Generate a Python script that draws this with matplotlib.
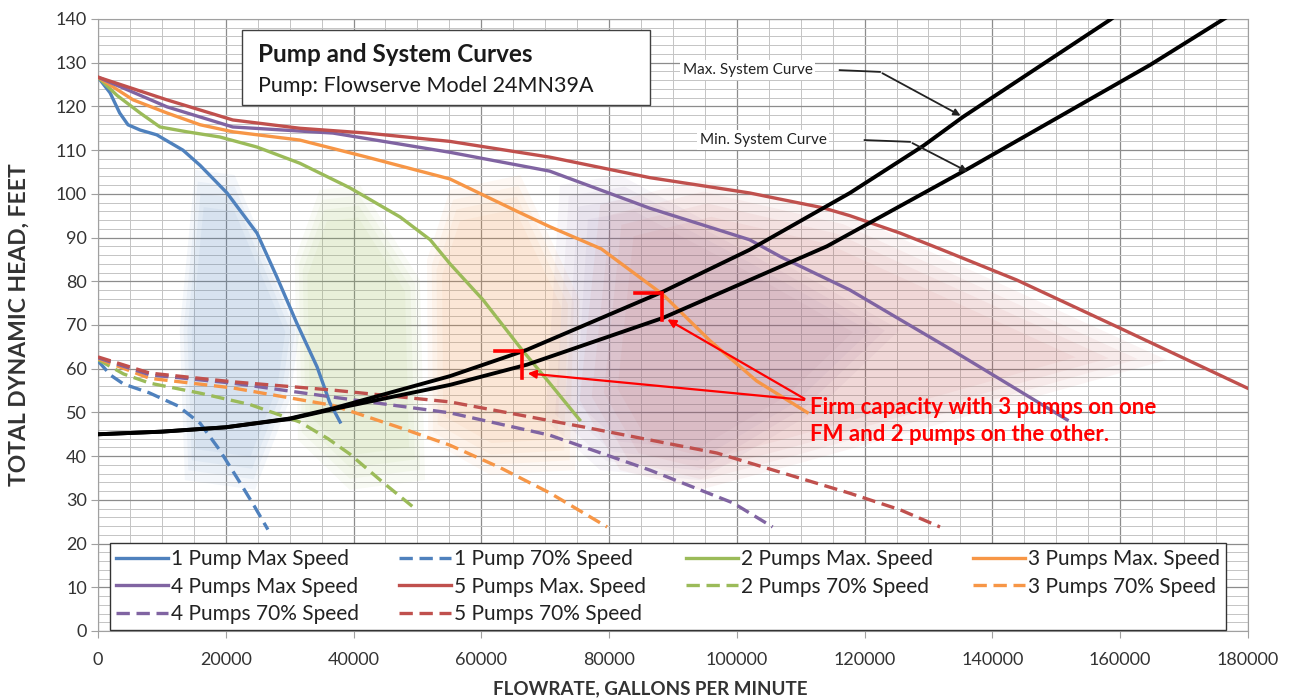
import matplotlib.pyplot as plt
from matplotlib.patches import Polygon, Rectangle
from matplotlib.ticker import MultipleLocator

plt.rcParams['font.family'] = ['Lato', 'DejaVu Sans']

# pump curves at max speed (flow gpm, head ft)
p1_max_q = [0, 1900, 3400, 4700, 6600, 9200, 13300, 16000, 20200, 24900, 28000, 31100, 34300, 36300, 37900]
p1_max_h = [126.7, 123.1, 118.5, 115.8, 114.6, 113.5, 110.0, 106.5, 100.2, 91.0, 81.0, 70.5, 60.4, 52.2, 47.8]
p2_max_q = [0, 3000, 6600, 9700, 13900, 19100, 24900, 31600, 39400, 47300, 52000, 55100, 60300, 66000, 70700, 75400]
p2_max_h = [126.7, 122.5, 118.5, 115.3, 114.2, 113.0, 110.7, 107.0, 101.4, 94.7, 89.5, 84.0, 75.7, 65.0, 56.7, 48.3]
p3_max_q = [0, 5500, 10800, 16000, 21100, 31600, 42100, 55100, 65600, 70700, 78800, 88400, 95800, 103100, 111000]
p3_max_h = [126.7, 121.5, 118.5, 115.8, 114.2, 112.3, 108.4, 103.4, 96.0, 92.5, 87.4, 77.0, 66.4, 57.2, 50.0]
p4_max_q = [0, 10800, 21100, 36800, 55100, 70700, 86400, 102000, 107000, 117700, 125600, 133400, 141200, 151700]
p4_max_h = [126.7, 119.9, 115.3, 113.9, 109.5, 105.2, 96.7, 89.5, 85.5, 78.0, 71.2, 64.5, 57.6, 48.3]
p5_max_q = [0, 10800, 21100, 31600, 42100, 55100, 70700, 86400, 102000, 113500, 117700, 125600, 131800, 143800, 159500, 180000]
p5_max_h = [126.7, 121.5, 116.9, 115.0, 113.9, 112.0, 108.4, 103.7, 100.2, 96.8, 95.0, 91.0, 87.4, 80.3, 69.6, 55.5]

# pump curves at 70% speed
p1_70_q = [0, 2000, 4000, 8000, 12500, 16000, 19000, 22000, 24500, 26600]
p1_70_h = [61.8, 58.5, 56.5, 54.5, 51.5, 47.5, 41.5, 34.5, 28.5, 23.2]
p2_70_q = [0, 4000, 8100, 16000, 23800, 31600, 36000, 39400, 44600, 49300]
p2_70_h = [62.1, 58.8, 56.7, 54.4, 51.8, 47.8, 44.0, 40.5, 34.0, 28.4]
p3_70_q = [0, 8100, 21100, 36800, 47300, 55100, 62900, 70700, 79700]
p3_70_h = [62.3, 57.8, 55.6, 51.6, 46.5, 42.5, 37.4, 31.6, 23.8]
p4_70_q = [0, 8100, 21100, 36800, 55100, 70700, 86400, 99400, 105600]
p4_70_h = [62.5, 58.6, 56.7, 53.5, 49.9, 44.8, 36.8, 29.3, 23.8]
p5_70_q = [0, 8100, 21100, 36800, 55100, 75900, 96900, 117700, 125600, 131800]
p5_70_h = [62.7, 59.0, 57.0, 55.1, 52.4, 46.7, 40.7, 31.5, 27.7, 23.8]

# system curves
sys_max_q = [0, 10000, 20000, 30000, 37000, 55100, 67100, 88400, 102000, 117700, 129200, 135400, 158400, 160500]
sys_max_h = [45.0, 45.6, 46.6, 48.6, 51.0, 58.3, 64.3, 77.6, 87.2, 100.2, 111.0, 117.6, 139.8, 142.0]
sys_min_q = [0, 10000, 20000, 30000, 37000, 55100, 67100, 88400, 114100, 136500, 164700, 176000, 178500]
sys_min_h = [45.0, 45.6, 46.6, 48.5, 50.8, 56.3, 60.9, 71.6, 88.0, 106.0, 129.5, 139.8, 142.0]

# shaded operating regions (flow, head)
shade_1 = [(15200, 105.5), (21400, 104.3), (31600, 68.9), (30000, 52.8), (24600, 32.3), (13600, 34.5), (12800, 68.9)]
shade_2 = [(34700, 100.9), (41000, 102.0), (50400, 80.3), (51200, 34.5), (39400, 32.3), (31300, 43.7), (30800, 84.9)]
shade_3 = [(55100, 100.9), (66100, 104.3), (75400, 75.7), (74700, 36.8), (61400, 35.7), (51700, 43.7), (51500, 84.9)]
shade_4 = [(72300, 102.0), (81700, 104.3), (103600, 87.2), (125500, 68.9), (112000, 50.0), (94200, 34.5), (78600, 36.8), (70000, 48.3)]
shade_5 = [(78600, 97.5), (94200, 103.2), (117700, 95.2), (167300, 62.0), (109900, 38.4), (94200, 32.3), (81700, 36.8), (75400, 52.8)]

blue = '#4F81BD'
red = '#C0504D'
green = '#9BBB59'
purple = '#8064A2'
orange = '#F79646'


def soft_fill(ax, pts, color):
    # a few nested copies give the blurred edge of the original shading
    cx = sum(p[0] for p in pts) / len(pts)
    cy = sum(p[1] for p in pts) / len(pts)
    for s in [1.0, 0.93, 0.86, 0.78]:
        shrunk = [(cx + (x - cx) * s, cy + (y - cy) * s) for x, y in pts]
        ax.add_patch(Polygon(shrunk, closed=True, facecolor=color, edgecolor='none', alpha=0.06, zorder=1))


fig = plt.figure(figsize=(12.94, 6.98), dpi=100)
ax = fig.add_axes([0.0757, 0.096, 0.8887, 0.8768])

for pts, c in [(shade_1, blue), (shade_2, green), (shade_3, orange), (shade_4, purple), (shade_5, red)]:
    soft_fill(ax, pts, c)

lw = 2.4
dash = (0, (4, 2))
h1, = ax.plot(p1_max_q, p1_max_h, color=blue, lw=lw, label='1 Pump Max Speed', zorder=3)
h2, = ax.plot(p1_70_q, p1_70_h, color=blue, lw=lw, ls=dash, label='1 Pump 70% Speed', zorder=3)
h3, = ax.plot(p2_max_q, p2_max_h, color=green, lw=lw, label='2 Pumps Max. Speed', zorder=3)
h4, = ax.plot(p3_max_q, p3_max_h, color=orange, lw=lw, label='3 Pumps Max. Speed', zorder=3)
h5, = ax.plot(p4_max_q, p4_max_h, color=purple, lw=lw, label='4 Pumps Max Speed', zorder=3)
h6, = ax.plot(p5_max_q, p5_max_h, color=red, lw=lw, label='5 Pumps Max. Speed', zorder=3)
h7, = ax.plot(p2_70_q, p2_70_h, color=green, lw=lw, ls=dash, label='2 Pumps 70% Speed', zorder=3)
h8, = ax.plot(p3_70_q, p3_70_h, color=orange, lw=lw, ls=dash, label='3 Pumps 70% Speed', zorder=3)
h9, = ax.plot(p4_70_q, p4_70_h, color=purple, lw=lw, ls=dash, label='4 Pumps 70% Speed', zorder=3)
h10, = ax.plot(p5_70_q, p5_70_h, color=red, lw=lw, ls=dash, label='5 Pumps 70% Speed', zorder=3)

ax.plot(sys_max_q, sys_max_h, color='black', lw=2.8, zorder=4)
ax.plot(sys_min_q, sys_min_h, color='black', lw=2.8, zorder=4)

ax.set_xlim(0, 180000)
ax.set_ylim(0, 140)
ax.xaxis.set_major_locator(MultipleLocator(20000))
ax.xaxis.set_minor_locator(MultipleLocator(5000))
ax.yaxis.set_major_locator(MultipleLocator(10))
ax.yaxis.set_minor_locator(MultipleLocator(2))
ax.grid(which='major', color='#8c8c8c', lw=0.9, zorder=0)
ax.grid(which='minor', color='#c4c4c4', lw=0.7, zorder=0)
ax.set_axisbelow(True)
for s in ax.spines.values():
    s.set_color('#a0a0a0')
ax.tick_params(which='major', labelsize=13, length=5, color='#a0a0a0', labelcolor='#333333')
ax.tick_params(axis='x', which='major', pad=10)
ax.tick_params(axis='y', which='major', pad=3)
ax.tick_params(which='minor', length=0)

ax.set_xlabel('FLOWRATE, GALLONS PER MINUTE', fontsize=13.5, fontweight='bold', color='#333333')
ax.xaxis.set_label_coords(0.48, -0.08)
ax.set_ylabel('TOTAL DYNAMIC HEAD, FEET', fontsize=16.5, fontweight='bold', color='#333333')
ax.yaxis.set_label_coords(-0.059, 0.5)

# title box
ax.add_patch(Rectangle((0.125, 0.859), 0.355, 0.123, transform=ax.transAxes,
                       facecolor='white', edgecolor='#404040', lw=1.0, zorder=5))
ax.text(0.139, 0.9297, 'Pump and System Curves', transform=ax.transAxes, fontsize=17.5,
        fontweight='bold', va='baseline', color='#1a1a1a', zorder=6)
ax.text(0.139, 0.8807, 'Pump: Flowserve Model 24MN39A', transform=ax.transAxes, fontsize=15.5,
        va='baseline', color='#1a1a1a', zorder=6)

# system curve labels
ax.text(91500, 128.3, 'Max. System Curve', fontsize=11, va='center', color='#222222', zorder=6,
        bbox=dict(facecolor='white', edgecolor='none', pad=2))
ax.plot([116100, 122400], [128.3, 127.9], color='#222222', lw=1.3, zorder=6)
ax.annotate('', xy=(135400, 117.6), xytext=(122400, 127.9),
            arrowprops=dict(arrowstyle='-|>', color='#222222', lw=1.3, mutation_scale=10), zorder=6)
ax.text(94200, 112.3, 'Min. System Curve', fontsize=11, va='center', color='#222222', zorder=6,
        bbox=dict(facecolor='white', edgecolor='none', pad=2))
ax.plot([120000, 127100], [112.3, 111.9], color='#222222', lw=1.3, zorder=6)
ax.annotate('', xy=(136500, 104.8), xytext=(127100, 111.9),
            arrowprops=dict(arrowstyle='-|>', color='#222222', lw=1.3, mutation_scale=10), zorder=6)

# firm capacity marks
fred = '#FF0000'
ax.plot([84050, 88280, 88280], [77.3, 77.3, 71.2], color=fred, lw=2.6, zorder=7, solid_joinstyle='miter')
ax.plot([62140, 66360, 66360], [64.1, 64.1, 57.9], color=fred, lw=2.6, zorder=7, solid_joinstyle='miter')
ax.annotate('', xy=(88750, 71.6), xytext=(110970, 52.8),
            arrowprops=dict(arrowstyle='-|>', color=fred, lw=1.6, mutation_scale=12), zorder=7)
ax.annotate('', xy=(66830, 59.0), xytext=(110970, 52.8),
            arrowprops=dict(arrowstyle='-|>', color=fred, lw=1.6, mutation_scale=12), zorder=7)
ax.text(111440, 49.6, 'Firm capacity with 3 pumps on one', color=fred,
        fontsize=16, fontweight='bold', va='baseline', ha='left', zorder=7)
ax.text(111440, 43.5, 'FM and 2 pumps on the other.', color=fred,
        fontsize=16, fontweight='bold', va='baseline', ha='left', zorder=7)

handles = [h1, h5, h9, h2, h6, h10, h3, h7, h4, h8]
leg = ax.legend(handles=handles, ncol=4, loc='upper left', bbox_to_anchor=(0.0104, 0.1438),
                borderaxespad=0, fontsize=15, handlelength=2.5, handletextpad=0.15, columnspacing=1.9,
                fancybox=False, framealpha=1, edgecolor='#333333', borderpad=0.3, labelspacing=0.36,
                labelcolor='#222222')
leg.get_frame().set_linewidth(1.0)
leg.set_zorder(8)

fig.savefig('out.png', dpi=100)
